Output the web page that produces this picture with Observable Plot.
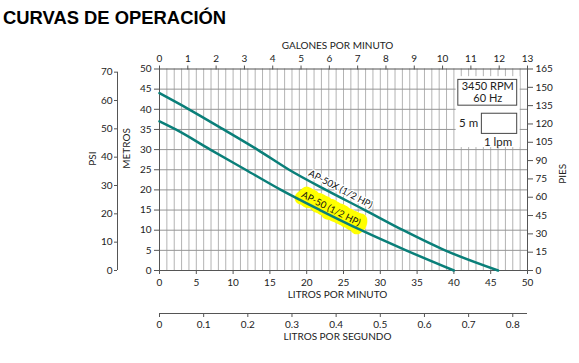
<!DOCTYPE html>
<html><head><meta charset="utf-8">
<script src="https://cdn.jsdelivr.net/npm/d3@7"></script>
<script src="https://cdn.jsdelivr.net/npm/@observablehq/plot@0.6"></script>
<style>
body{margin:0;background:#fff;}
#wrap{position:relative;width:579px;height:363px;overflow:hidden;}
#title{position:absolute;left:3px;top:9.4px;margin:0;font:bold 18.4px "Liberation Sans",Arial,sans-serif;line-height:1;color:#000;white-space:nowrap;z-index:2;}
#chart{position:absolute;left:0;top:0;}
</style></head><body>
<div id="wrap"><div id="title">CURVAS DE OPERACIÓN</div><div id="chart"></div></div>
<script>
// Curve data: flow in litres per minute, head in metres
const lpmAP50X = [0, 4, 8.7, 13.3, 17.6, 22.6, 27.9, 33.1, 38.8, 46];
const mAP50X   = [44, 40, 35, 30, 25, 20, 15, 10, 5, 0];
const lpmAP50  = [0, 2.2, 6.9, 11.7, 16.5, 21.8, 27.4, 33.5, 40];
const mAP50    = [37, 35, 30, 25, 20, 15, 10, 5, 0];

// Tick labels
const lpmTicks = [0, 5, 10, 15, 20, 25, 30, 35, 40, 45, 50];
const metrosTicks = [0, 5, 10, 15, 20, 25, 30, 35, 40, 45, 50];
const gpmTicks = [0, 1, 2, 3, 4, 5, 6, 7, 8, 9, 10, 11, 12, 13];
const psiTicks = [0, 10, 20, 30, 40, 50, 60, 70];
const piesTicks = [0, 15, 30, 45, 60, 75, 90, 105, 120, 135, 150, 165];
const lpsTicks = [0, 0.1, 0.2, 0.3, 0.4, 0.5, 0.6, 0.7, 0.8];

// Texts
const seriesNames = ["AP-50X (1/2 HP)", "AP-50 (1/2 HP)"];
const rpmText = ["3450 RPM", "60 Hz"];
const scaleText = ["5 m", "1 lpm"];
const axisTitles = {gpm: "GALONES POR MINUTO", lpm: "LITROS POR MINUTO", lps: "LITROS POR SEGUNDO", m: "METROS", psi: "PSI", ft: "PIES"};

// Unit factors of the secondary axes
const lpmPerGpm = 50 / 13;
const ftPerM = 3.3;
const mPerPsi = 0.70307;
const lpmPerLps = 60;

const ap50x = lpmAP50X.map((x, i) => ({x, y: mAP50X[i]}));
const ap50 = lpmAP50.map((x, i) => ({x, y: mAP50[i]}));

const teal = "#0a7f79";
const axisGray = "#555";
const C = v => () => v;

const chart = Plot.plot({
  width: 579, height: 363,
  marginTop: 68.5, marginBottom: 93, marginLeft: 159, marginRight: 52,
  x: {domain: [0, 50], label: null, axis: null},
  y: {domain: [0, 50], label: null, axis: null},
  style: {fontFamily: "Lato, 'Open Sans', sans-serif", fontSize: "10px", color: "#222", background: "white"},
  marks: [
    // grid
    Plot.ruleX(d3.range(1, 50), {stroke: "#b3b3b3", strokeWidth: 1}),
    Plot.ruleY(d3.range(5, 50, 5), {stroke: "#959595", strokeWidth: 1}),
    // white area behind the legend boxes
    Plot.rect([0], {x1: C(40.3), x2: C(49.0), y1: C(30.5), y2: C(48.1), fill: "white"}),
    Plot.frame({stroke: axisGray}),
    // axes
    Plot.axisX(lpmTicks, {anchor: "bottom", tickSize: 4, tickPadding: 4, label: null, stroke: axisGray}),
    Plot.axisX(gpmTicks.map(g => g * lpmPerGpm), {anchor: "top", tickSize: 4, tickPadding: 3, label: null, stroke: axisGray,
      tickFormat: d => String(Math.round(d / lpmPerGpm))}),
    Plot.axisY(metrosTicks, {anchor: "left", tickSize: 5, tickPadding: 3, label: null, stroke: axisGray}),
    Plot.axisY(piesTicks.map(f => f / ftPerM), {anchor: "right", tickSize: 5, tickPadding: 3, label: null, stroke: axisGray,
      tickFormat: d => String(Math.round(d * ftPerM))}),
    Plot.axisY(psiTicks.map(p => p * mPerPsi), {anchor: "left", dx: -42, tickSize: 3, tickPadding: 2, label: null, stroke: axisGray,
      tickFormat: d => String(Math.round(d / mPerPsi))}),
    Plot.ruleX([0], {y1: C(0), y2: C(70 * mPerPsi), dx: -42, stroke: axisGray}),
    Plot.axisX(lpsTicks.map(v => v * lpmPerLps), {anchor: "bottom", dy: 43, tickSize: 4, tickPadding: 3, label: null, stroke: axisGray,
      tickFormat: d => String(Math.round(d / 6) / 10)}),
    Plot.ruleY([0], {x1: C(0), x2: C(50), dy: 43, stroke: axisGray}),
    // axis titles
    Plot.text([axisTitles.gpm], {frameAnchor: "top", dx: -6, dy: -27.5, fontSize: 10, fill: "#222"}),
    Plot.text([axisTitles.lpm], {frameAnchor: "bottom", dx: -6, dy: 27, fontSize: 10, fill: "#222"}),
    Plot.text([axisTitles.lps], {frameAnchor: "bottom", dx: -6, dy: 69, fontSize: 10, fill: "#222"}),
    Plot.text([axisTitles.m], {frameAnchor: "left", dx: -33, dy: -1, rotate: -90, fontSize: 10, fill: "#222"}),
    Plot.text([axisTitles.psi], {frameAnchor: "left", dx: -67, dy: -4, rotate: -90, fontSize: 10, fill: "#222"}),
    Plot.text([axisTitles.ft], {frameAnchor: "right", dx: 35, dy: -6, rotate: -90, fontSize: 10, fill: "#222"}),
    // yellow highlight under the AP-50 label
    Plot.text([seriesNames[1]], {x: C(23.4), y: C(15.0), rotate: 27, fontSize: 9.5, fill: "none", stroke: "#ffff00", strokeWidth: 13, strokeLinejoin: "round"}),
    // curves
    Plot.line(ap50x, {x: "x", y: "y", curve: "monotone-x", stroke: teal, strokeWidth: 2.5}),
    Plot.line(ap50, {x: "x", y: "y", curve: "monotone-x", stroke: teal, strokeWidth: 2.5}),
    // curve labels
    Plot.text([seriesNames[0]], {x: C(24.6), y: C(20.2), rotate: 28, fontSize: 9.5, fill: "#111", stroke: "white", strokeWidth: 2.5}),
    Plot.text([seriesNames[1]], {x: C(23.3), y: C(15.3), rotate: 27, fontSize: 9.5, fill: "#111"}),
    // legend boxes
    Plot.rect([0], {x1: C(40.6), x2: C(48.6), y1: C(40.9), y2: C(47.3), fill: "white", stroke: "#444", strokeWidth: 1}),
    Plot.text([rpmText[0]], {x: C(44.6), y: C(45.7), fontSize: 11, fill: "#222"}),
    Plot.text([rpmText[1]], {x: C(44.6), y: C(42.7), fontSize: 11, fill: "#222"}),
    Plot.rect([0], {x1: C(43.8), x2: C(48.6), y1: C(33.9), y2: C(38.9), fill: "white", stroke: "#444", strokeWidth: 1}),
    Plot.text([scaleText[0]], {x: C(43.3), y: C(36.5), textAnchor: "end", fontSize: 11.5, fill: "#222"}),
    Plot.text([scaleText[1]], {x: C(46.0), y: C(31.8), fontSize: 11.5, fill: "#222"})
  ]
});
document.getElementById("chart").appendChild(chart);
</script>
</body></html>
